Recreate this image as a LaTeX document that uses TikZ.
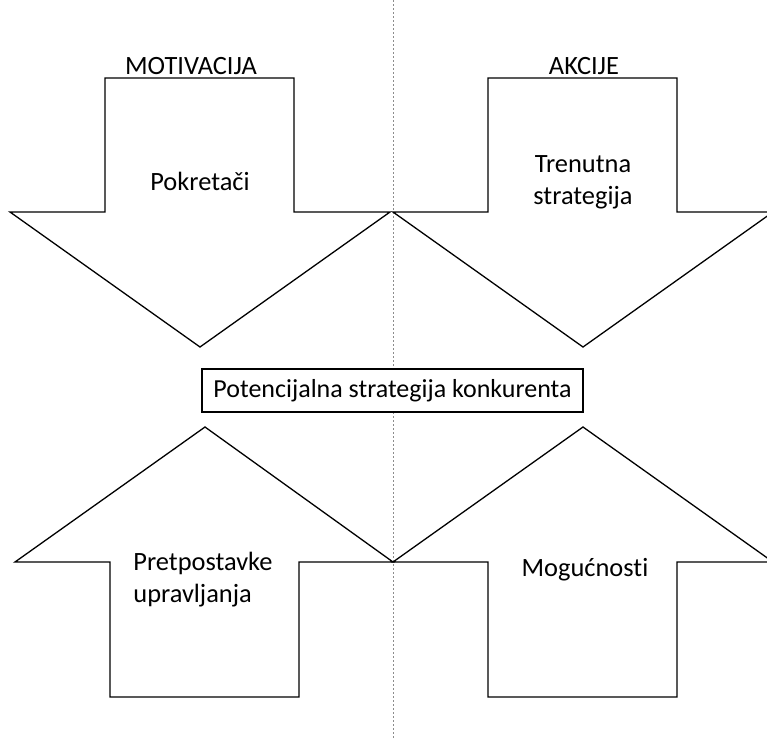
\documentclass[tikz,border=0pt]{standalone}
\usepackage{fontspec}
\setmainfont[Ligatures=NoCommon]{Carlito}
\usetikzlibrary{positioning}
\tikzstyle{bigarrow} = [draw, line width=0.65pt, line join=miter]
\tikzstyle{heading} = [inner sep=0pt, anchor=base, font=\fontsize{13.2}{15.8}\selectfont]
\tikzstyle{arrowtext} = [inner sep=0pt, align=center, font=\fontsize{13.2}{15.8}\selectfont]
\tikzstyle{midbox} = [rectangle, draw, fill=white, line width=0.65pt,
    minimum width=190.5pt, minimum height=21.5pt, inner sep=0pt,
    font=\fontsize{13}{15.5}\selectfont]
\tikzstyle{divider} = [draw, black!45, line width=0.4pt, dash pattern=on 1pt off 1pt]

\begin{document}
\begin{tikzpicture}[x=0.5pt, y=-0.5pt]
  \useasboundingbox (0,0) rectangle (767,740);

    % Dividing line
    \coordinate (topEnd) at (393,0);
    \coordinate (bottomEnd) at (393,740);
    \path [divider] (topEnd) -- (bottomEnd);

    % Draw arrows
    \path [bigarrow] (105,78) -- (294,78) -- (294,212) -- (390,212)
        -- (200,347) -- (10,212) -- (105,212) -- cycle;
    \path [bigarrow] (488,78) -- (677,78) -- (677,212) -- (773,212)
        -- (583,347) -- (393,212) -- (488,212) -- cycle;
    \path [bigarrow] (110,697) -- (299,697) -- (299,562) -- (393,562)
        -- (205,427) -- (15,562) -- (110,562) -- cycle;
    \path [bigarrow] (488,697) -- (677,697) -- (677,562) -- (773,562)
        -- (583,427) -- (393,562) -- (488,562) -- cycle;

    % Place nodes
    \node [heading] (motivacija) at (191,74) {MOTIVACIJA};
    \node [heading] (akcije) at (584,74) {AKCIJE};
    \node [arrowtext] (pokretaci) at (200,181) {Pokretači};
    \node [arrowtext] (trenutna) at (583,182) {Trenutna\\strategija};
    \node [arrowtext, align=left, anchor=north west] (pretpostavke) at (133,552) {Pretpostavke\\upravljanja};
    \node [arrowtext] (mogucnosti) at (585,570) {Mogućnosti};
    \node [midbox] (potencijalna) at (392.5,390.5) {Potencijalna strategija konkurenta};

\end{tikzpicture}
\end{document}
